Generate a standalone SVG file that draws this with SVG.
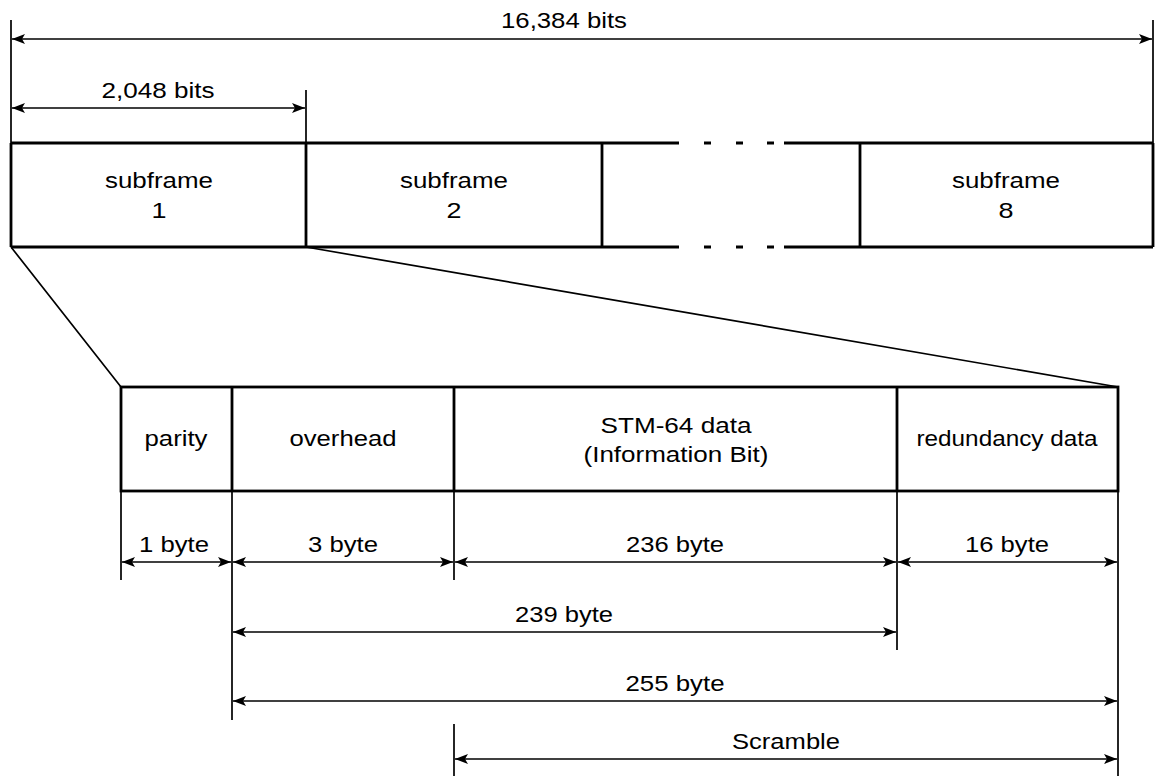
<svg xmlns="http://www.w3.org/2000/svg" width="1156" height="776" viewBox="0 0 1156 776">
<style>
.t{font-family:"Liberation Sans",Arial,sans-serif;font-size:22px;fill:#000;text-anchor:middle}
.box{fill:none;stroke:#000;stroke-width:2.8}
.ext{fill:none;stroke:#000;stroke-width:1.7}
.dim{fill:none;stroke:#000;stroke-width:1.6;marker-start:url(#a0);marker-end:url(#a1)}
</style>
<defs>
<marker id="a1" markerUnits="userSpaceOnUse" markerWidth="14" markerHeight="12" viewBox="0 0 14 12" refX="13" refY="6" orient="auto"><path d="M0,1 L13,6 L0,11 L3,6 Z" fill="#000"/></marker>
<marker id="a0" markerUnits="userSpaceOnUse" markerWidth="14" markerHeight="12" viewBox="0 0 14 12" refX="1" refY="6" orient="auto"><path d="M14,1 L1,6 L14,11 L11,6 Z" fill="#000"/></marker>
</defs>
<rect width="1156" height="776" fill="#fff"/>

<g id="frame">
<path class="box" d="M11,143 H679 M784,143 H1153 M11,247 H679 M784,247 H1153 M11,143 V247 M306,143 V247 M602,143 V247 M860,143 V247 M1153,143 V247"/>
<path class="box" d="M704,143 H711 M736,143 H743 M767,143 H774 M704,247 H711 M736,247 H743 M767,247 H774"/>
</g>
<g id="subframe1"><text class="t" x="159" y="188" textLength="108" lengthAdjust="spacingAndGlyphs">subframe</text><text class="t" x="159" y="218" textLength="15" lengthAdjust="spacingAndGlyphs">1</text></g>
<g id="subframe2"><text class="t" x="454" y="188" textLength="108" lengthAdjust="spacingAndGlyphs">subframe</text><text class="t" x="454" y="218" textLength="15" lengthAdjust="spacingAndGlyphs">2</text></g>
<g id="subframe8"><text class="t" x="1006" y="188" textLength="108" lengthAdjust="spacingAndGlyphs">subframe</text><text class="t" x="1006" y="218" textLength="15" lengthAdjust="spacingAndGlyphs">8</text></g>

<g id="detail">
<rect class="box" x="121" y="387" width="997" height="104"/>
<path class="box" d="M232,387 V491 M454,387 V491 M897,387 V491"/>
</g>
<g id="parity"><text class="t" x="176" y="446" textLength="63" lengthAdjust="spacingAndGlyphs">parity</text></g>
<g id="overhead"><text class="t" x="343" y="446" textLength="107" lengthAdjust="spacingAndGlyphs">overhead</text></g>
<g id="stm64"><text class="t" x="676" y="433" textLength="151" lengthAdjust="spacingAndGlyphs">STM-64 data</text><text class="t" x="676" y="462" textLength="185" lengthAdjust="spacingAndGlyphs">(Information Bit)</text></g>
<g id="redundancy"><text class="t" x="1007" y="446" textLength="181" lengthAdjust="spacingAndGlyphs">redundancy data</text></g>

<g id="connectors">
<path class="ext" d="M11,20 V143 M1153,20 V143 M306,90 V143"/>
<path class="ext" d="M11,247 L121,387 M306,247 L1118,387"/>
<path class="ext" d="M121,491 V580 M232,491 V720 M454,491 V580 M454,724 V776 M897,491 V650 M1118,491 V776"/>
<line class="dim" x1="12" y1="39" x2="1152" y2="39"/>
<line class="dim" x1="12" y1="108" x2="305" y2="108"/>
<line class="dim" x1="122" y1="562" x2="231" y2="562"/>
<line class="dim" x1="233" y1="562" x2="453" y2="562"/>
<line class="dim" x1="455" y1="562" x2="896" y2="562"/>
<line class="dim" x1="898" y1="562" x2="1117" y2="562"/>
<line class="dim" x1="233" y1="632" x2="896" y2="632"/>
<line class="dim" x1="233" y1="701" x2="1117" y2="701"/>
<line class="dim" x1="455" y1="759" x2="1117" y2="759"/>
</g>

<g id="labels">
<text class="t" x="564" y="28" textLength="126" lengthAdjust="spacingAndGlyphs">16,384 bits</text>
<text class="t" x="158" y="98" textLength="113" lengthAdjust="spacingAndGlyphs">2,048 bits</text>
<text class="t" x="174" y="552" textLength="70" lengthAdjust="spacingAndGlyphs">1 byte</text>
<text class="t" x="343" y="552" textLength="70" lengthAdjust="spacingAndGlyphs">3 byte</text>
<text class="t" x="675" y="552" textLength="98" lengthAdjust="spacingAndGlyphs">236 byte</text>
<text class="t" x="1007" y="552" textLength="84" lengthAdjust="spacingAndGlyphs">16 byte</text>
<text class="t" x="564" y="622" textLength="98" lengthAdjust="spacingAndGlyphs">239 byte</text>
<text class="t" x="675" y="691" textLength="99" lengthAdjust="spacingAndGlyphs">255 byte</text>
<text class="t" x="786" y="749" textLength="108" lengthAdjust="spacingAndGlyphs">Scramble</text>
</g>
</svg>
